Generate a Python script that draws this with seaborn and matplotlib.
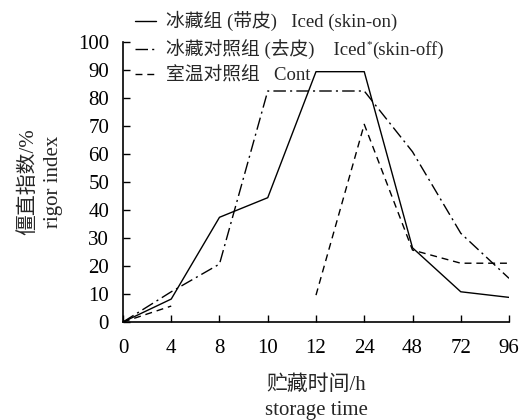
import matplotlib

matplotlib.use("Agg")
import matplotlib.pyplot as plt
import numpy as np
import pandas as pd
import seaborn as sns

# storage time (h), shown as evenly spaced categories
TIMES = ["0", "4", "8", "10", "12", "24", "48", "72", "96"]

ICED_SKIN_ON = [0, 8.2, 37.4, 44.4, 89.4, 89.4, 26.5, 10.8, 8.8]
ICED_SKIN_OFF = [0, 10.8, 20.7, 82.5, 82.5, 82.5, 60.8, 31.7, 15.6]
CONT = [0, 5.7, np.nan, np.nan, 9.6, 70.6, 25.7, 21.0, 21.0]

LABELS = [
    "冰藏组 (带皮)   Iced (skin-on)",
    "冰藏对照组 (去皮)    Iced",
    "室温对照组   Cont",
]
# rest of the second label, drawn after a superscript asterisk
LABEL2_TAIL = "(skin-off)"
STYLES = [(None, "-"), ((9, 3, 1.5, 3), "-."), ((5, 3.5), "--")]
FONTS = ["Liberation Serif", "Noto Sans CJK SC"]
LEGEND_SIZE = 13.5


def main() -> None:
    sns.set_style("ticks")
    plt.rcParams["font.family"] = FONTS

    fig = plt.figure(figsize=(5.26, 4.2), dpi=100)
    ax = fig.add_axes([0.2338, 0.2333, 0.7339, 0.6667])

    pos = np.arange(len(TIMES))
    handles = []
    for values, label, (dashes, ls) in zip(
        [ICED_SKIN_ON, ICED_SKIN_OFF, CONT], LABELS, STYLES
    ):
        df = pd.DataFrame({"pos": pos, "value": values})
        # split into contiguous runs so gaps are not bridged
        df["seg"] = df["value"].isna().cumsum()
        df = df.dropna()
        for _, seg in df.groupby("seg"):
            sns.lineplot(
                data=seg, x="pos", y="value", ax=ax, color="black",
                linewidth=1.0, estimator=None, sort=False, legend=False,
            )
            line = ax.lines[-1]
            if dashes is not None:
                line.set_dashes(dashes)
        (h,) = ax.plot([], [], color="black", linewidth=1.0, linestyle=ls)
        if dashes is not None:
            h.set_dashes(dashes)
        handles.append(h)

    ax.set_xlim(0, len(TIMES) - 1)
    ax.set_ylim(0, 100)
    ax.set_xticks(pos)
    ax.set_xticklabels(TIMES)
    ax.set_yticks(range(0, 101, 10))
    ax.tick_params(direction="in", length=5, width=1, labelsize=15,
                   colors="black")
    ax.tick_params(axis="x", pad=12)
    ax.tick_params(axis="y", pad=10)
    for side in ["top", "right"]:
        ax.spines[side].set_visible(False)
    for side in ["left", "bottom"]:
        ax.spines[side].set_linewidth(1.2)
        ax.spines[side].set_color("black")

    ax.set_xlabel("贮藏时间/h\nstorage time", fontsize=15, labelpad=13,
                  linespacing=1.4)
    ax.set_ylabel("僵直指数/%\nrigor index", fontsize=15, labelpad=11,
                  linespacing=1.4)

    leg = fig.legend(
        handles, LABELS, loc="upper left", bbox_to_anchor=(0.235, 1.0),
        frameon=False, fontsize=LEGEND_SIZE, handlelength=1.15,
        handletextpad=0.5, labelspacing=0.4, borderaxespad=0.2,
    )

    # superscript asterisk and the rest of the second legend entry
    fig.canvas.draw()
    renderer = fig.canvas.get_renderer()
    bbox = leg.get_texts()[1].get_window_extent(renderer)
    fig_w, fig_h = fig.get_size_inches() * fig.dpi
    star = fig.text((bbox.x1 + 0.5) / fig_w, (bbox.y1 - 1) / fig_h, "*",
                    fontsize=8, va="top", ha="left")
    star_w = star.get_window_extent(renderer).width
    fig.text((bbox.x1 + star_w + 1) / fig_w, bbox.y0 / fig_h, LABEL2_TAIL,
             fontsize=LEGEND_SIZE, va="bottom", ha="left")

    fig.savefig("out.png", dpi=100)
    plt.close(fig)


if __name__ == "__main__":
    main()
